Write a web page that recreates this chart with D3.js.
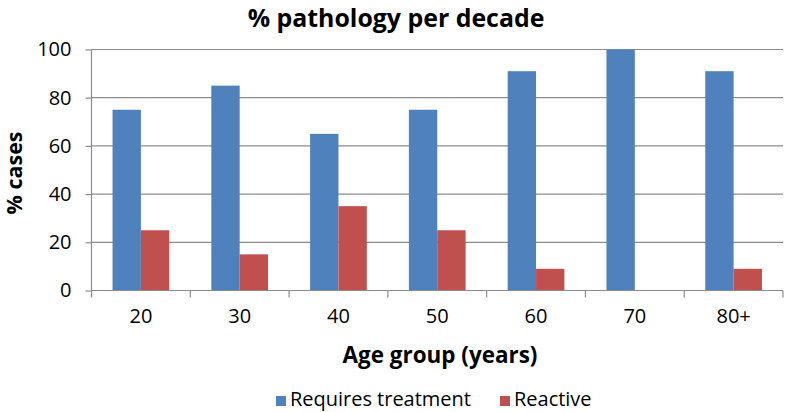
<!DOCTYPE html>
<html><head><meta charset="utf-8">
<script src="https://cdn.jsdelivr.net/npm/d3@7"></script>
<style>body{margin:0;background:#fff}svg{display:block;font-family:"Open Sans",sans-serif}</style>
</head><body>
<svg id="c" width="786" height="412"></svg>
<script>
const categories = ["20","30","40","50","60","70","80+"];
const requiresTreatment = [75,85,65,75,91,100,91];
const reactive = [25,15,35,25,9,0,9];
const seriesNames = ["Requires treatment","Reactive"];
const colors = ["#4F81BD","#C0504D"];
const yTicks = [0,20,40,60,80,100];

const svg = d3.select("#c");
const m = {l:91.5, r:783, t:49.5, b:290.5};
const x = d3.scaleBand().domain(categories).range([m.l, m.r]).paddingInner(0).paddingOuter(0);
const y = d3.scaleLinear().domain([0,100]).range([m.b, m.t]);
const bw = x.bandwidth();
const barW = bw*0.287;
const x1 = d3.scaleBand().domain(seriesNames).range([(bw-2*barW)/2, (bw+2*barW)/2]);
const axisCol = "#8c8c8c";

// gridlines
svg.append("g").selectAll("line").data(yTicks.filter(d=>d>0)).join("line")
  .attr("x1", m.l).attr("x2", m.r).attr("y1", d=>y(d)).attr("y2", d=>y(d))
  .attr("stroke", axisCol).attr("stroke-width", 1.2);

// bars
const data = categories.map((c,i)=>({c, vals:[requiresTreatment[i], reactive[i]]}));
const g = svg.append("g").selectAll("g").data(data).join("g")
  .attr("transform", d=>`translate(${x(d.c)},0)`);
g.selectAll("rect").data(d=>d.vals.map((v,j)=>({v, s:seriesNames[j], j}))).join("rect")
  .attr("x", d=>x1(d.s)).attr("width", x1.bandwidth())
  .attr("y", d=>y(d.v)).attr("height", d=>y(0)-y(d.v))
  .attr("fill", d=>colors[d.j]);

// y axis
const ya = svg.append("g").attr("transform", `translate(${m.l},0)`)
  .call(d3.axisLeft(y).tickValues(yTicks).tickSize(6).tickPadding(14).tickFormat(d3.format("d")));
ya.select(".domain").attr("stroke",axisCol).attr("stroke-width",1.2).attr("d", `M0,${m.b}V${m.t}`);
ya.selectAll(".tick line").attr("stroke",axisCol).attr("stroke-width",1.2);
ya.selectAll("text").attr("font-size", 20).attr("fill","#000").attr("font-family","Open Sans");

// x axis
const xa = svg.append("g").attr("transform", `translate(0,${m.b})`)
  .call(d3.axisBottom(x).tickSize(0).tickPadding(18));
xa.select(".domain").attr("stroke",axisCol).attr("stroke-width",1.2).attr("d", `M${m.l},0H${m.r}`);
xa.selectAll("text").attr("font-size", 20).attr("fill","#000").attr("font-family","Open Sans");
xa.append("g").selectAll("line").data(d3.range(categories.length+1)).join("line")
  .attr("x1", i=>m.l+i*bw).attr("x2", i=>m.l+i*bw).attr("y1",0).attr("y2",7)
  .attr("stroke",axisCol).attr("stroke-width",1.2);

function fit(sel, target){
  const w = sel.node().getComputedTextLength();
  const fs = +sel.attr("font-size");
  sel.attr("font-size", fs*target/w);
}

// titles
fit(svg.append("text").attr("x", 396).attr("y", 27).attr("text-anchor","middle")
  .attr("font-size", 22).attr("font-weight","bold").text("% pathology per decade"), 297);
fit(svg.append("text").attr("x", 440).attr("y", 363).attr("text-anchor","middle")
  .attr("font-size", 20).attr("font-weight","bold").text("Age group (years)"), 195);
fit(svg.append("text").attr("transform", `translate(21.5,173) rotate(-90)`).attr("text-anchor","middle")
  .attr("font-size", 20).attr("font-weight","bold").text("% cases"), 83);

// legend
const leg = svg.append("g");
const legX = [276, 500];
let legFs = 18;
seriesNames.forEach((n,i)=>{
  leg.append("rect").attr("x", legX[i]).attr("y", 396).attr("width", 10).attr("height", 10).attr("fill", colors[i]);
  const t = leg.append("text").attr("x", legX[i]+14).attr("y", 406).attr("font-size", legFs).text(n);
  if(i===0){ fit(t, 181); legFs = +t.attr("font-size"); }
});
</script>
</body></html>
